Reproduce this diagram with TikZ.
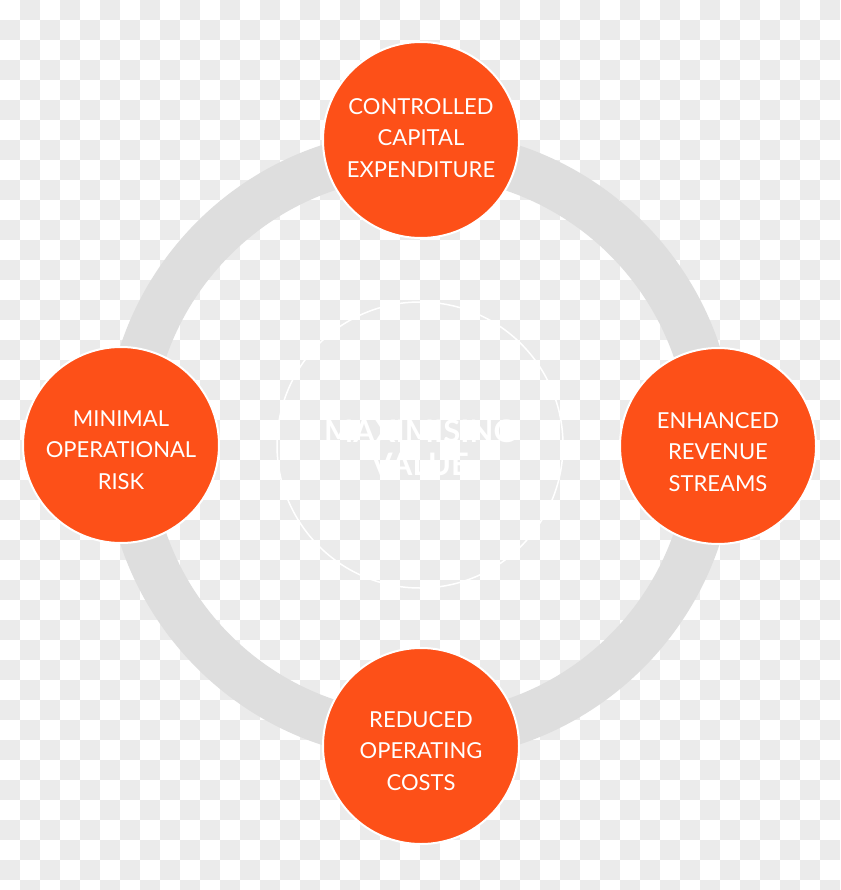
\documentclass[tikz,border=0pt]{standalone}
\usepackage{fontspec}
\setmainfont{Lato}
\usepackage{tikz}
\usetikzlibrary{calc,positioning}
\definecolor{checkgray}{HTML}{EBEBEB}
\definecolor{ringgray}{HTML}{DEDEDE}
\definecolor{valueorange}{HTML}{FD5018}
\tikzset{
  valuenode/.style={circle,fill=valueorange,draw=white,line width=2pt,minimum size=196pt,inner sep=0pt},
  valuetext/.style={align=center,text=white,font=\fontsize{22}{31.5}\selectfont},
  centretext/.style={align=center,text=white,font=\bfseries\fontsize{31}{33}\selectfont}
}
\begin{document}
\begin{tikzpicture}[x=1pt,y=-1pt]
      \useasboundingbox (0,0) rectangle (840,890);
      \clip (0,0) rectangle (840,890);
      % checker background
      \fill[white] (0,0) rectangle (840,890);
      \foreach \i in {0,...,41}{
        \foreach \j in {0,...,44}{
          \pgfmathtruncatemacro\k{mod(\i+\j,2)}
          \ifnum\k=1 \fill[checkgray] (\i*20,\j*20) rectangle ++(20,20); \fi
        }
      }
      \def\R{292}
      \def\w{47}
      \def\rc{143}
      \coordinate (O) at (420,445);
      \draw[ringgray,line width=\w pt] (O) circle (\R);
      \draw[white,line width=1.5pt] (O) circle (\rc);
      \node[centretext] (value) at ($(O)+(0,3)$) {MAXIMISING\\VALUE};
      % the four outcomes
      \node[valuenode] (capex) at (421,140) {};
      \node[valuenode] (revenue) at (718,446) {};
      \node[valuenode] (costs) at (421,746) {};
      \node[valuenode] (risk) at (121,445) {};
      \node[valuetext] at ($(capex)+(0,-2)$) {CONTROLLED\\CAPITAL\\EXPENDITURE};
      \node[valuetext] at ($(revenue)+(0,6)$) {ENHANCED\\REVENUE\\STREAMS};
      \node[valuetext] at ($(costs)+(0,5)$) {REDUCED\\OPERATING\\COSTS};
      \node[valuetext] at ($(risk)+(0,5)$) {MINIMAL\\OPERATIONAL\\RISK};
\end{tikzpicture}
\end{document}
